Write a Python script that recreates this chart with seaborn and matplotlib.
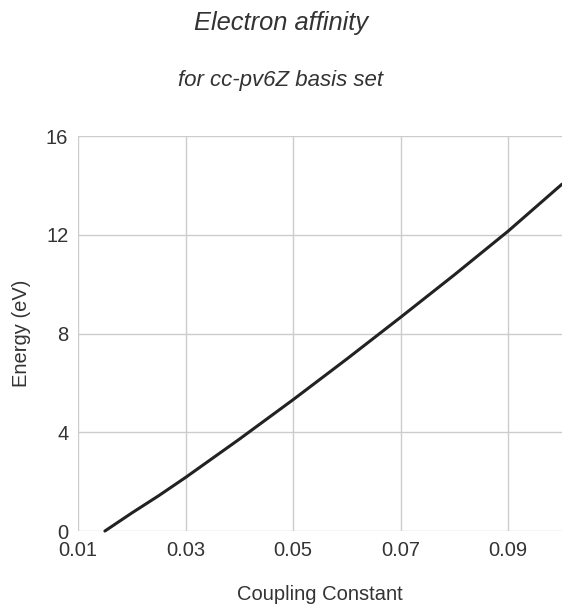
import matplotlib
matplotlib.use("Agg")
import matplotlib.pyplot as plt
import pandas as pd
import seaborn as sns

# values
coupling = [0.015, 0.02, 0.025, 0.03, 0.04, 0.05, 0.06, 0.07, 0.08, 0.09, 0.1]
energy = [0.0, 0.73, 1.43, 2.17, 3.72, 5.32, 6.97, 8.66, 10.38, 12.15, 14.05]
x_ticks = [0.01, 0.03, 0.05, 0.07, 0.09]
y_ticks = [0, 4, 8, 12, 16]

df = pd.DataFrame({"Coupling Constant": coupling, "Energy (eV)": energy})

sns.set_style("white")
plt.rcParams["font.family"] = ["Liberation Sans", "DejaVu Sans"]

fig = plt.figure(figsize=(5.62, 6.08), dpi=100)
ax = fig.add_axes([0.1388, 0.1266, 0.8612, 0.6497])

sns.lineplot(data=df, x="Coupling Constant", y="Energy (eV)", ax=ax,
             color="#222222", linewidth=2.2, clip_on=False,
             solid_capstyle="round")

ax.set_xlim(0.01, 0.1)
ax.set_ylim(0, 16)
ax.set_xticks(x_ticks)
ax.set_xticklabels([f"{t:.2f}" for t in x_ticks])
ax.set_yticks(y_ticks)
ax.grid(True, color="#cccccc", linewidth=1)
ax.set_axisbelow(True)
for s in ax.spines.values():
    s.set_visible(False)
ax.tick_params(axis="both", length=5, width=1, color="#cccccc",
               labelsize=14.5, labelcolor="#333333", pad=2)

ax.set_xlabel("Coupling Constant", fontsize=14.5, color="#333333", labelpad=18)
ax.set_ylabel("Energy (eV)", fontsize=14.5, color="#333333", labelpad=11)

fig.text(0.5, 0.962, "Electron affinity", ha="center", va="center",
         fontsize=18.4, style="italic", color="#333333")
fig.text(0.5, 0.868, "for cc-pv6Z basis set", ha="center", va="center",
         fontsize=16, style="italic", color="#333333")

fig.savefig("out.png", dpi=100)
